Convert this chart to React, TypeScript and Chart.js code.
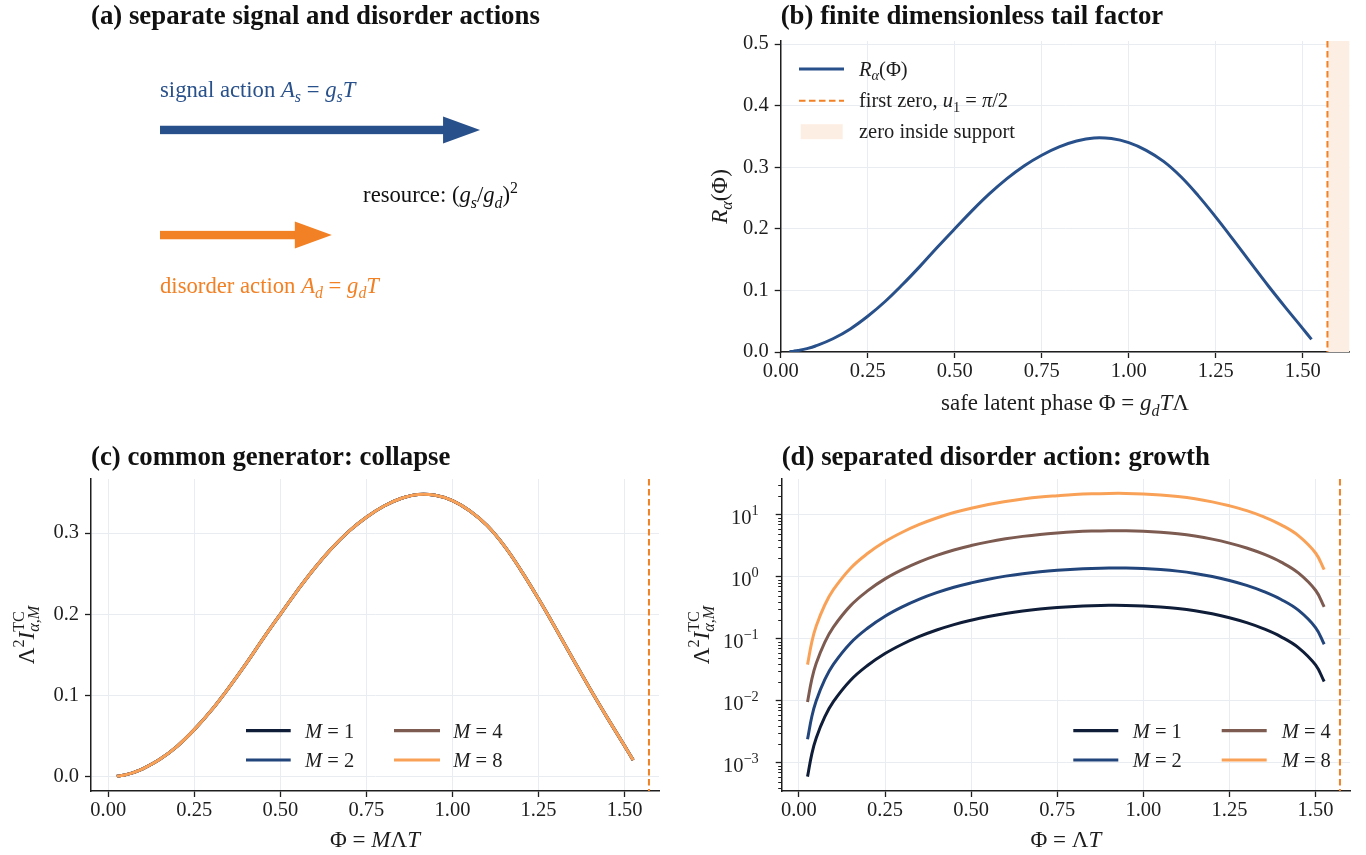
import React, { useEffect, useRef } from 'react';
import { Chart, registerables } from 'chart.js';

Chart.register(...registerables);

const FAMILY = '"Liberation Serif", "Times New Roman", Times, serif';
Chart.defaults.font.family = FAMILY;

// ---------------- data ----------------
const phi = [0.025, 0.0375, 0.05, 0.075, 0.1, 0.15, 0.2, 0.25, 0.3, 0.35, 0.4, 0.45, 0.5, 0.55, 0.6, 0.65, 0.7, 0.75, 0.8, 0.85, 0.9, 0.95, 1.0, 1.05, 1.1, 1.15, 1.2, 1.25, 1.3, 1.35, 1.4, 1.45, 1.5, 1.525];
const tailFactor = [0.0006, 0.0014, 0.0025, 0.0055, 0.0097, 0.0215, 0.0375, 0.058, 0.082, 0.1095, 0.139, 0.170, 0.200, 0.2295, 0.257, 0.2815, 0.3025, 0.3195, 0.333, 0.3425, 0.3475, 0.3465, 0.340, 0.3275, 0.3095, 0.2845, 0.2535, 0.219, 0.1825, 0.145, 0.108, 0.0725, 0.038, 0.0205];
// panel (c): all M collapse onto the same curve
const collapseM1 = tailFactor;
const collapseM2 = tailFactor;
const collapseM4 = tailFactor;
const collapseM8 = tailFactor;
// panel (d): separated disorder action
const growthM1 = [0.0006, 0.0014, 0.0025, 0.0055, 0.0097, 0.0215, 0.0375, 0.058, 0.082, 0.1095, 0.139, 0.170, 0.200, 0.2295, 0.257, 0.2815, 0.3025, 0.3195, 0.333, 0.3425, 0.3475, 0.3465, 0.340, 0.3275, 0.3095, 0.2845, 0.2535, 0.219, 0.1825, 0.145, 0.108, 0.0725, 0.038, 0.0205];
const growthM2 = [0.0024, 0.0056, 0.010, 0.022, 0.0388, 0.086, 0.150, 0.232, 0.328, 0.438, 0.556, 0.680, 0.800, 0.918, 1.028, 1.126, 1.210, 1.278, 1.332, 1.370, 1.390, 1.386, 1.360, 1.310, 1.238, 1.138, 1.014, 0.876, 0.730, 0.580, 0.432, 0.290, 0.152, 0.082];
const growthM4 = [0.0096, 0.0224, 0.040, 0.088, 0.155, 0.344, 0.600, 0.928, 1.31, 1.75, 2.22, 2.72, 3.20, 3.67, 4.11, 4.50, 4.84, 5.11, 5.33, 5.48, 5.56, 5.54, 5.44, 5.24, 4.95, 4.55, 4.06, 3.50, 2.92, 2.32, 1.73, 1.16, 0.608, 0.328];
const growthM8 = [0.0384, 0.0896, 0.160, 0.352, 0.621, 1.38, 2.40, 3.71, 5.25, 7.01, 8.90, 10.9, 12.8, 14.7, 16.4, 18.0, 19.4, 20.4, 21.3, 21.9, 22.2, 22.2, 21.8, 21.0, 19.8, 18.2, 16.2, 14.0, 11.7, 9.28, 6.91, 4.64, 2.43, 1.31];
const mLabels = ['1', '2', '4', '8'];

const firstZero = 1.5708; // u1 = pi/2

// panel (a) schematic arrows (axes fraction units)
const arrowNames = ['signal', 'disorder'];
const arrowStart = [0.1215, 0.1215];
const arrowEnd = [0.685, 0.424];
const arrowLevel = [0.714, 0.376];

// ticks
const phiTicks = [0, 0.25, 0.5, 0.75, 1.0, 1.25, 1.5];
const phiTickLabels = ['0.00', '0.25', '0.50', '0.75', '1.00', '1.25', '1.50'];
const tailTicks = [0, 0.1, 0.2, 0.3, 0.4, 0.5];
const tailTickLabels = ['0.0', '0.1', '0.2', '0.3', '0.4', '0.5'];
const collapseTicks = [0, 0.1, 0.2, 0.3];
const collapseTickLabels = ['0.0', '0.1', '0.2', '0.3'];
const logTicks = [1e-3, 1e-2, 1e-1, 1, 10];
const logTickExp = ['\u22123', '\u22122', '\u22121', '0', '1'];

// ---------------- styles ----------------
const BLUE = '#28508a';
const ORANGE = '#f28024';
const SHADE = '#fdeee3';
const GRID = '#e9ecf1';
const INK = '#1e1e1e';
const M_COLORS = ['#0f1d38', '#22457c', '#7d5b51', '#f9a257'];
const TICK_SIZE = 20.5;
const LEG_SIZE = 20.5;
const LABEL_SIZE = 23;
const TITLE_SIZE = 26.8;
const ANNOT_SIZE = 22.7;

type Seg = { t: string; it?: boolean; pos?: 'sub' | 'sup'; keep?: boolean };

function fontStr(size: number, it = false, bold = false) {
  return `${it ? 'italic ' : ''}${bold ? 'bold ' : ''}${size}px ${FAMILY}`;
}

function richWidth(ctx: CanvasRenderingContext2D, segs: Seg[], size: number) {
  let x = 0;
  let pend = 0;
  for (const s of segs) {
    const sz = s.pos ? size * 0.7 : size;
    ctx.font = fontStr(sz, !!s.it);
    const w = ctx.measureText(s.t).width;
    if (s.keep) { pend = w; continue; }
    x += Math.max(w, pend);
    pend = 0;
  }
  return x + pend;
}

function drawRich(ctx: CanvasRenderingContext2D, segs: Seg[], x: number, y: number, size: number, color: string, align: 'left' | 'center' | 'right' = 'left') {
  const W = richWidth(ctx, segs, size);
  let cx = align === 'center' ? x - W / 2 : align === 'right' ? x - W : x;
  let pend = 0;
  ctx.fillStyle = color;
  ctx.textBaseline = 'alphabetic';
  ctx.textAlign = 'left';
  for (const s of segs) {
    const sz = s.pos ? size * 0.7 : size;
    ctx.font = fontStr(sz, !!s.it);
    const w = ctx.measureText(s.t).width;
    const dy = s.pos === 'sub' ? size * 0.24 : s.pos === 'sup' ? -size * 0.42 : 0;
    ctx.fillText(s.t, cx, y + dy);
    if (s.keep) { pend = w; continue; }
    cx += Math.max(w, pend);
    pend = 0;
  }
}

function drawRotated(ctx: CanvasRenderingContext2D, segs: Seg[], cx: number, cy: number, size: number, color: string) {
  ctx.save();
  ctx.translate(cx, cy);
  ctx.rotate(-Math.PI / 2);
  drawRich(ctx, segs, 0, size * 0.3, size, color, 'center');
  ctx.restore();
}

const pts = (ys: number[]) => phi.map((x, i) => ({ x, y: ys[i] }));

function linAxis(pos: 'bottom' | 'left', min: number, max: number, ticks: number[], labels: string[], size: number) {
  return {
    type: 'linear',
    position: pos,
    min,
    max,
    afterBuildTicks: (s: any) => { s.ticks = ticks.map((v) => ({ value: v })); },
    afterFit: (s: any) => { if (pos === 'bottom') s.height = size; else s.width = size; },
    ticks: {
      callback: (_v: any, i: number) => labels[i],
      font: { family: FAMILY, size: TICK_SIZE },
      color: INK,
      padding: pos === 'bottom' ? 1 : 6,
      autoSkip: false,
      maxRotation: 0,
      minRotation: 0,
    },
    grid: { color: GRID, lineWidth: 1, tickColor: INK, tickLength: 6, tickWidth: 1.3, drawTicks: true },
    border: { display: true, color: INK, width: 1.5 },
  };
}

function vDashed(chart: any, value: number) {
  const { ctx, chartArea } = chart;
  const x = chart.scales.x.getPixelForValue(value);
  ctx.save();
  ctx.strokeStyle = ORANGE;
  ctx.lineWidth = 2;
  ctx.setLineDash([6.5, 3.5]);
  ctx.beginPath();
  ctx.moveTo(x, chartArea.top);
  ctx.lineTo(x, chartArea.bottom);
  ctx.stroke();
  ctx.restore();
}

function drawTitle(chart: any, text: string, baseline: number) {
  const { ctx, chartArea } = chart;
  ctx.save();
  ctx.font = fontStr(TITLE_SIZE, false, true);
  ctx.fillStyle = '#111';
  ctx.textAlign = 'left';
  ctx.textBaseline = 'alphabetic';
  ctx.fillText(text, chartArea.left, baseline);
  ctx.restore();
}

function mLegend(chart: any, cols: [number, number, number][], rows: number[]) {
  const { ctx, chartArea } = chart;
  const L = chartArea.left;
  const T = chartArea.top;
  mLabels.forEach((m, i) => {
    const col = cols[Math.floor(i / 2)];
    const y = T + rows[i % 2];
    ctx.save();
    ctx.strokeStyle = M_COLORS[i];
    ctx.lineWidth = 3.2;
    ctx.beginPath();
    ctx.moveTo(L + col[0], y);
    ctx.lineTo(L + col[1], y);
    ctx.stroke();
    ctx.restore();
    drawRich(ctx, [{ t: 'M', it: true }, { t: ' = ' + m }], L + col[2], y + 7, LEG_SIZE, INK);
  });
}

const MLABEL_SEGS: Seg[] = [{ t: '\u039B' }, { t: '2', pos: 'sup' }, { t: 'I', it: true }, { t: '\u03B1,M', it: true, pos: 'sub', keep: true }, { t: 'TC', pos: 'sup' }];

function lineDataset(ys: number[], color: string, order: number) {
  return {
    data: pts(ys), borderColor: color, borderWidth: 3, pointRadius: 0,
    tension: 0.4, fill: false, order,
  };
}

export default function App() {
  const refA = useRef<HTMLCanvasElement>(null);
  const refB = useRef<HTMLCanvasElement>(null);
  const refC = useRef<HTMLCanvasElement>(null);
  const refD = useRef<HTMLCanvasElement>(null);

  useEffect(() => {
    const charts: Chart[] = [];
    const base = {
      animation: false,
      responsive: false,
      devicePixelRatio: 1,
      events: [],
      plugins: { legend: { display: false }, tooltip: { enabled: false }, title: { display: false } },
    };

    // ---------- (a) ----------
    charts.push(new Chart(refA.current!, {
      type: 'scatter',
      data: { datasets: [] },
      options: {
        ...base,
        layout: { padding: { left: 91, right: 24, top: 41, bottom: 78 } },
        scales: {
          x: { type: 'linear', min: 0, max: 1, display: false },
          y: { type: 'linear', min: 0, max: 1, display: false },
        },
      } as any,
      plugins: [{
        id: 'panelA',
        afterDraw(chart: any) {
          const { ctx } = chart;
          const xs = chart.scales.x;
          const ys = chart.scales.y;
          drawTitle(chart, '(a) separate signal and disorder actions', 24);
          arrowNames.forEach((name, i) => {
            const col = name === 'signal' ? BLUE : ORANGE;
            const y = ys.getPixelForValue(arrowLevel[i]);
            const x0 = xs.getPixelForValue(arrowStart[i]);
            const x1 = xs.getPixelForValue(arrowEnd[i]);
            const head = 37;
            ctx.save();
            ctx.fillStyle = col;
            ctx.fillRect(x0, y - 4.2, x1 - head - x0 + 1, 8.4);
            ctx.beginPath();
            ctx.moveTo(x1 - head, y - 13.5);
            ctx.lineTo(x1, y);
            ctx.lineTo(x1 - head, y + 13.5);
            ctx.closePath();
            ctx.fill();
            ctx.restore();
          });
          drawRich(ctx, [{ t: 'signal action ' }, { t: 'A', it: true }, { t: 's', it: true, pos: 'sub' }, { t: ' = ' }, { t: 'g', it: true }, { t: 's', it: true, pos: 'sub' }, { t: 'T', it: true }],
            xs.getPixelForValue(0.1215), ys.getPixelForValue(0.82), ANNOT_SIZE, BLUE);
          drawRich(ctx, [{ t: 'resource: (' }, { t: 'g', it: true }, { t: 's', it: true, pos: 'sub' }, { t: '/' }, { t: 'g', it: true }, { t: 'd', it: true, pos: 'sub' }, { t: ')' }, { t: '2', pos: 'sup' }],
            xs.getPixelForValue(0.479), ys.getPixelForValue(0.482), ANNOT_SIZE, '#111');
          drawRich(ctx, [{ t: 'disorder action ' }, { t: 'A', it: true }, { t: 'd', it: true, pos: 'sub' }, { t: ' = ' }, { t: 'g', it: true }, { t: 'd', it: true, pos: 'sub' }, { t: 'T', it: true }],
            xs.getPixelForValue(0.1215), ys.getPixelForValue(0.19), ANNOT_SIZE, ORANGE);
        },
      }],
    } as any));

    // ---------- (b) ----------
    charts.push(new Chart(refB.current!, {
      type: 'line',
      data: { datasets: [lineDataset(tailFactor, BLUE, 0)] },
      options: {
        ...base,
        layout: { padding: { left: 0, right: 16.7, top: 41, bottom: 0 } },
        scales: {
          x: linAxis('bottom', 0, 1.6336, phiTicks, phiTickLabels, 78),
          y: linAxis('left', 0, 0.505, tailTicks, tailTickLabels, 97.7),
        },
      } as any,
      plugins: [{
        id: 'panelB',
        beforeDatasetsDraw(chart: any) {
          const { ctx, chartArea } = chart;
          const x = chart.scales.x.getPixelForValue(firstZero);
          ctx.save();
          ctx.fillStyle = SHADE;
          ctx.fillRect(x, chartArea.top, chartArea.right - x, chartArea.bottom - chartArea.top);
          ctx.restore();
        },
        afterDatasetsDraw(chart: any) { vDashed(chart, firstZero); },
        afterDraw(chart: any) {
          const { ctx, chartArea } = chart;
          const L = chartArea.left;
          const T = chartArea.top;
          drawTitle(chart, '(b) finite dimensionless tail factor', 24);
          drawRotated(ctx, [{ t: 'R', it: true }, { t: '\u03B1', it: true, pos: 'sub' }, { t: '(\u03A6)' }], L - 61, (chartArea.top + chartArea.bottom) / 2, LABEL_SIZE, INK);
          drawRich(ctx, [{ t: 'safe latent phase \u03A6 = ' }, { t: 'g', it: true }, { t: 'd', it: true, pos: 'sub' }, { t: 'T', it: true }, { t: '\u039B' }],
            (chartArea.left + chartArea.right) / 2, chartArea.bottom + 58, LABEL_SIZE, INK, 'center');
          // legend
          const rows = [28, 59.7, 90.7];
          ctx.save();
          ctx.strokeStyle = BLUE; ctx.lineWidth = 3.2;
          ctx.beginPath(); ctx.moveTo(L + 18.3, T + rows[0]); ctx.lineTo(L + 63.3, T + rows[0]); ctx.stroke();
          ctx.strokeStyle = ORANGE; ctx.lineWidth = 2; ctx.setLineDash([6.5, 3.5]);
          ctx.beginPath(); ctx.moveTo(L + 18.3, T + rows[1]); ctx.lineTo(L + 63.3, T + rows[1]); ctx.stroke();
          ctx.fillStyle = SHADE;
          ctx.fillRect(L + 20, T + rows[2] - 7.5, 42, 15);
          ctx.restore();
          drawRich(ctx, [{ t: 'R', it: true }, { t: '\u03B1', it: true, pos: 'sub' }, { t: '(\u03A6)' }], L + 78.3, T + rows[0] + 6.5, LEG_SIZE, INK);
          drawRich(ctx, [{ t: 'first zero, ' }, { t: 'u', it: true }, { t: '1', pos: 'sub' }, { t: ' = ' }, { t: '\u03C0', it: true }, { t: '/2' }], L + 78.3, T + rows[1] + 6.5, LEG_SIZE, INK);
          drawRich(ctx, [{ t: 'zero inside support' }], L + 78.3, T + rows[2] + 6.5, LEG_SIZE, INK);
        },
      }],
    } as any));

    // ---------- (c) ----------
    const collapse = [collapseM1, collapseM2, collapseM4, collapseM8];
    charts.push(new Chart(refC.current!, {
      type: 'line',
      data: { datasets: collapse.map((ys, i) => lineDataset(ys, M_COLORS[i], 3 - i)) },
      options: {
        ...base,
        layout: { padding: { left: 0, right: 24, top: 49, bottom: 0 } },
        scales: {
          x: linAxis('bottom', -0.05, 1.60, phiTicks, phiTickLabels, 64),
          y: linAxis('left', -0.0175, 0.3665, collapseTicks, collapseTickLabels, 91),
        },
      } as any,
      plugins: [{
        id: 'panelC',
        afterDatasetsDraw(chart: any) { vDashed(chart, firstZero); },
        afterDraw(chart: any) {
          const { ctx, chartArea } = chart;
          drawTitle(chart, '(c) common generator: collapse', 34.5);
          drawRotated(ctx, MLABEL_SEGS, chartArea.left - 64, (chartArea.top + chartArea.bottom) / 2, LABEL_SIZE, INK);
          drawRich(ctx, [{ t: '\u03A6 = ' }, { t: 'M', it: true }, { t: '\u039B' }, { t: 'T', it: true }],
            (chartArea.left + chartArea.right) / 2, chartArea.bottom + 56, LABEL_SIZE, INK, 'center');
          mLegend(chart, [[155, 199.7, 214], [303, 349, 362.3]], [251.7, 281]);
        },
      }],
    } as any));

    // ---------- (d) ----------
    const growth = [growthM1, growthM2, growthM4, growthM8];
    charts.push(new Chart(refD.current!, {
      type: 'line',
      data: { datasets: growth.map((ys, i) => lineDataset(ys, M_COLORS[i], 3 - i)) },
      options: {
        ...base,
        layout: { padding: { left: 0, right: 16, top: 49, bottom: 0 } },
        scales: {
          x: linAxis('bottom', -0.05, 1.60, phiTicks, phiTickLabels, 64),
          y: {
            type: 'logarithmic',
            position: 'left',
            min: 3.52e-4,
            max: 37.9,
            afterBuildTicks: (s: any) => { s.ticks = logTicks.map((v) => ({ value: v })); },
            afterFit: (s: any) => { s.width = 98.7; },
            ticks: { callback: () => '', font: { family: FAMILY, size: TICK_SIZE }, padding: 3, autoSkip: false },
            grid: { color: GRID, lineWidth: 1, tickColor: INK, tickLength: 6, tickWidth: 1.3, drawTicks: true },
            border: { display: true, color: INK, width: 1.5 },
          },
        },
      } as any,
      plugins: [{
        id: 'panelD',
        afterDatasetsDraw(chart: any) { vDashed(chart, firstZero); },
        afterDraw(chart: any) {
          const { ctx, chartArea } = chart;
          const ys = chart.scales.y;
          const L = chartArea.left;
          // minor ticks
          ctx.save();
          ctx.strokeStyle = INK;
          ctx.lineWidth = 1;
          for (let k = -4; k <= 1; k++) {
            for (let m = 2; m <= 9; m++) {
              const v = m * Math.pow(10, k);
              if (v < ys.min || v > ys.max) continue;
              const y = Math.round(ys.getPixelForValue(v)) + 0.5;
              ctx.beginPath(); ctx.moveTo(L - 3.5, y); ctx.lineTo(L, y); ctx.stroke();
            }
          }
          ctx.restore();
          logTicks.forEach((v, i) => {
            const y = ys.getPixelForValue(v);
            drawRich(ctx, [{ t: '10' }, { t: logTickExp[i], pos: 'sup' }], L - 23, y + 9, TICK_SIZE, INK, 'right');
          });
          drawTitle(chart, '(d) separated disorder action: growth', 34.5);
          drawRotated(ctx, MLABEL_SEGS, L - 80, (chartArea.top + chartArea.bottom) / 2, LABEL_SIZE, INK);
          drawRich(ctx, [{ t: '\u03A6 = \u039B' }, { t: 'T', it: true }],
            (chartArea.left + chartArea.right) / 2, chartArea.bottom + 56, LABEL_SIZE, INK, 'center');
          mLegend(chart, [[291.6, 336.6, 351], [440, 485, 500]], [251.7, 281]);
        },
      }],
    } as any));

    return () => { charts.forEach((c) => c.destroy()); };
  }, []);

  const cv = (left: number, top: number, w: number, h: number): React.CSSProperties => ({
    position: 'absolute', left, top, width: w, height: h,
  });

  return (
    <div style={{ position: 'fixed', left: 0, top: 0, width: 1366, height: 855, background: '#fff', overflow: 'hidden' }}>
      <canvas ref={refA} width={683} height={430} style={cv(0, 0, 683, 430)} />
      <canvas ref={refB} width={683} height={430} style={cv(683, 0, 683, 430)} />
      <canvas ref={refC} width={683} height={425} style={cv(0, 430, 683, 425)} />
      <canvas ref={refD} width={683} height={425} style={cv(683, 430, 683, 425)} />
    </div>
  );
}
